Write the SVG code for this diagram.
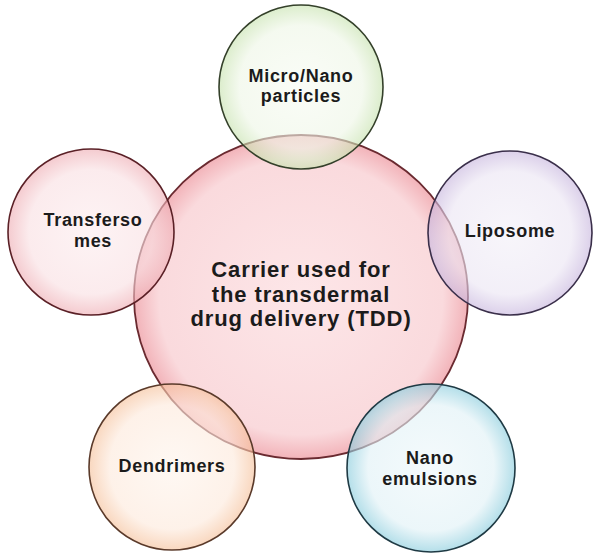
<svg xmlns="http://www.w3.org/2000/svg" width="602" height="556" viewBox="0 0 602 556">
<defs>
<radialGradient id="gC" cx="50%" cy="50%" r="50%">
<stop offset="0" stop-color="#fde6e8"/><stop offset="0.85" stop-color="#fadadd"/><stop offset="1" stop-color="#f2b3b9"/>
</radialGradient>
<radialGradient id="gG" cx="50%" cy="50%" r="50%">
<stop offset="0" stop-color="#f7fbf2"/><stop offset="0.75" stop-color="#eef6e6"/><stop offset="1" stop-color="#c6e2ad"/>
</radialGradient>
<radialGradient id="gR" cx="50%" cy="50%" r="50%">
<stop offset="0" stop-color="#fcecee"/><stop offset="0.75" stop-color="#f9dfe2"/><stop offset="1" stop-color="#eeabb2"/>
</radialGradient>
<radialGradient id="gP" cx="50%" cy="50%" r="50%">
<stop offset="0" stop-color="#f3f0f8"/><stop offset="0.75" stop-color="#ebe5f3"/><stop offset="1" stop-color="#c6b4dd"/>
</radialGradient>
<radialGradient id="gO" cx="50%" cy="50%" r="50%">
<stop offset="0" stop-color="#fef4ec"/><stop offset="0.75" stop-color="#fde9db"/><stop offset="1" stop-color="#f5bf98"/>
</radialGradient>
<radialGradient id="gB" cx="50%" cy="50%" r="50%">
<stop offset="0" stop-color="#eef7fa"/><stop offset="0.75" stop-color="#e0f1f6"/><stop offset="1" stop-color="#86cbdc"/>
</radialGradient>
</defs>
<style>
text{font-family:"Liberation Sans",Arial,sans-serif;font-weight:bold;fill:#1b1b1b;text-anchor:middle}
.sat{fill-opacity:0.62;stroke-width:1.6}
.t20{font-size:18px;letter-spacing:0.7px}
.t24{font-size:22px;letter-spacing:0.9px}
</style>
<g id="connectors"></g>
<g id="center">
<ellipse cx="301" cy="297" rx="167" ry="162" fill="url(#gC)" stroke="#6a2a30" stroke-width="1.8"/>
<text class="t24" x="301" y="277">Carrier used for</text>
<text class="t24" x="301" y="301.5">the transdermal</text>
<text class="t24" x="301" y="326">drug delivery (TDD)</text>
</g>
<g id="micro">
<circle class="sat" cx="301" cy="87" r="82" fill="url(#gG)" stroke="#34402a"/>
<text class="t20" x="301" y="82">Micro/Nano</text>
<text class="t20" x="301" y="102">particles</text>
</g>
<g id="transfersomes">
<circle class="sat" cx="91" cy="232" r="83" fill="url(#gR)" stroke="#5a2026"/>
<text class="t20" x="93" y="226">Transferso</text>
<text class="t20" x="93" y="247">mes</text>
</g>
<g id="liposome">
<circle class="sat" cx="510" cy="233" r="82" fill="url(#gP)" stroke="#3a2f4a"/>
<text class="t20" x="510" y="237">Liposome</text>
</g>
<g id="dendrimers">
<circle class="sat" cx="172" cy="467" r="83" fill="url(#gO)" stroke="#5a3a2a"/>
<text class="t20" x="172" y="472">Dendrimers</text>
</g>
<g id="nanoemulsions">
<circle class="sat" cx="431" cy="468" r="84" fill="url(#gB)" stroke="#1f3a44"/>
<text class="t20" x="430" y="464">Nano</text>
<text class="t20" x="430" y="485">emulsions</text>
</g>
</svg>
